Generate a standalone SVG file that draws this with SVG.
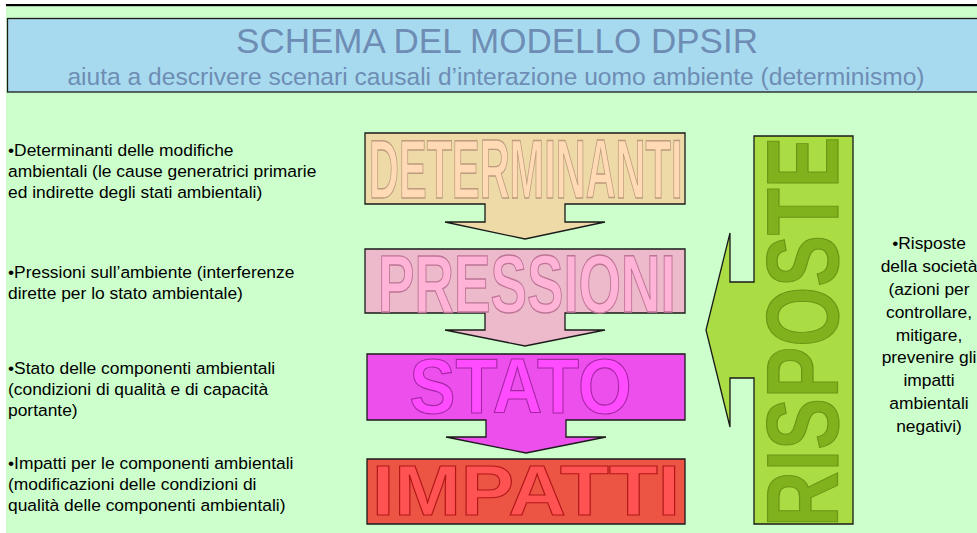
<svg xmlns="http://www.w3.org/2000/svg" width="977" height="533" viewBox="0 0 977 533">
<style>
.box{stroke:#1a1a1a;stroke-width:1.3;stroke-linejoin:miter}
.big{font-family:"Liberation Sans",Arial,sans-serif;font-weight:bold;stroke-width:1.1;vector-effect:non-scaling-stroke}
.lt{font-family:"Liberation Sans",Arial,sans-serif;font-size:17.4px;fill:#000}
.rt{font-family:"Liberation Sans",Arial,sans-serif;font-size:17.4px;fill:#000;text-anchor:middle}
.hd{font-family:"Liberation Sans",Arial,sans-serif;fill:#6E8DB4;text-anchor:middle}
</style>
<rect x="0" y="0" width="977" height="533" fill="#ffffff"/>
<rect x="6" y="6" width="971" height="527" fill="#CCFFCC"/>
<rect x="6" y="4" width="971" height="2.2" fill="#000"/>
<g id="banner">
<rect x="7.5" y="18.5" width="975" height="73.5" fill="#A8DAEF" stroke="#1a1a1a" stroke-width="1.3"/>
<text class="hd" x="497" y="53" font-size="35">SCHEMA DEL MODELLO DPSIR</text>
<text class="hd" x="496" y="85" font-size="24.6">aiuta a descrivere scenari causali d’interazione uomo ambiente (determinismo)</text>
</g>
<g id="connectors"></g>
<g id="determinanti">
<path class="box" fill="#EEDAA6" d="M365,133 H685 V204 H565 V222 H605 L525,239 L445,222 H485 V204 H365 Z"/>
<text class="big" transform="translate(369,198) scale(0.494,1)" font-size="84" fill="#FFDAB4" stroke="#BC9B7E">DETERMINANTI</text>
</g>
<g id="pressioni">
<path class="box" fill="#EDBACB" d="M365,249 H685 V313 H565 V330 H605 L525,346 L445,330 H485 V313 H365 Z"/>
<text class="big" transform="translate(378,312) scale(0.667,1)" font-size="82" fill="#FFB3D7" stroke="#BD7595">PRESSIONI</text>
</g>
<g id="stato">
<path class="box" fill="#EC4FEC" d="M367,354 H685 V420 H566 V437 H606 L526,453 L446,437 H486 V420 H367 Z"/>
<text class="big" transform="translate(409.5,413) scale(0.895,1)" font-size="77" fill="#FF4CFF" stroke="#A526A5">STATO</text>
</g>
<g id="impatti">
<path class="box" fill="#EC5444" d="M367,459 H685 V524 H367 Z"/>
<text class="big" transform="translate(372,515) scale(1.143,1)" font-size="70" fill="#FF5252" stroke="#B01818">IMPATTI</text>
</g>
<g id="risposte">
<path class="box" fill="#AADD44" d="M754,136 H853 V524 H754 V378 H730 V427 L706,330 L730,233 V282 H754 Z"/>
<text class="big" transform="translate(838,527) rotate(-90) scale(0.757,1)" font-size="102" fill="#80B21E" stroke="#6B9615">RISPOSTE</text>
</g>
<g id="testo-sinistra">
<text class="lt" x="8" y="156">•Determinanti delle modifiche</text>
<text class="lt" x="8" y="177">ambientali (le cause generatrici primarie</text>
<text class="lt" x="8" y="198">ed indirette degli stati ambientali)</text>
<text class="lt" x="8" y="278">•Pressioni sull’ambiente (interferenze</text>
<text class="lt" x="8" y="299">dirette per lo stato ambientale)</text>
<text class="lt" x="8" y="374">•Stato delle componenti ambientali</text>
<text class="lt" x="8" y="395">(condizioni di qualità e di capacità</text>
<text class="lt" x="8" y="416">portante)</text>
<text class="lt" x="8" y="469">•Impatti per le componenti ambientali</text>
<text class="lt" x="8" y="490">(modificazioni delle condizioni di</text>
<text class="lt" x="8" y="511">qualità delle componenti ambientali)</text>
</g>
<g id="testo-destra">
<text class="rt" x="929" y="249">•Risposte</text>
<text class="rt" x="929" y="272">della società</text>
<text class="rt" x="929" y="295">(azioni per</text>
<text class="rt" x="929" y="318">controllare,</text>
<text class="rt" x="929" y="341">mitigare,</text>
<text class="rt" x="929" y="363">prevenire gli</text>
<text class="rt" x="929" y="386">impatti</text>
<text class="rt" x="929" y="409">ambientali</text>
<text class="rt" x="929" y="432">negativi)</text>
</g>
</svg>
